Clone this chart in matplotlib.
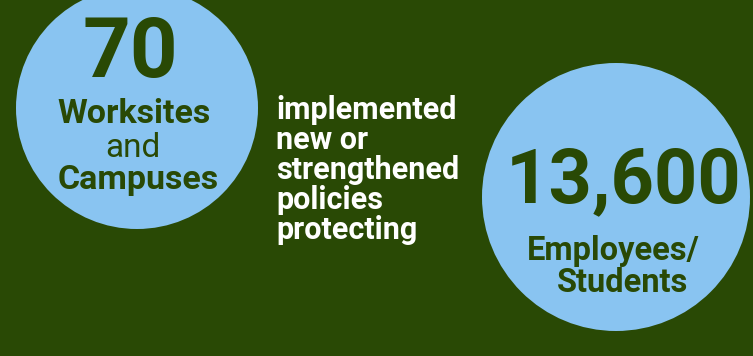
import matplotlib.pyplot as plt
from matplotlib.patches import Circle

# values shown in the graphic
big_numbers = ["70", "13,600"]
left_labels = ["Worksites", "and", "Campuses"]
right_labels = ["Employees/", "Students"]
middle_lines = ["implemented", "new or", "strengthened", "policies", "protecting"]

bg = "#294905"
blue = "#89c4f1"
W, H = 753, 356

plt.rcParams["font.family"] = ["Roboto", "DejaVu Sans"]

fig = plt.figure(figsize=(W / 100, H / 100), dpi=100, facecolor=bg)
ax = fig.add_axes([0, 0, 1, 1])
ax.set_xlim(0, W)
ax.set_ylim(H, 0)
ax.set_aspect("equal")
ax.axis("off")
ax.set_facecolor(bg)

# circles
ax.add_patch(Circle((137, 108), 121, color=blue, lw=0))
ax.add_patch(Circle((616, 197), 134, color=blue, lw=0))

# left circle
ax.text(130, 77, big_numbers[0], fontsize=60, fontweight="bold", color=bg,
        ha="center", va="baseline")
ax.text(134, 123, left_labels[0], fontsize=24.5, fontweight="bold", color=bg,
        ha="center", va="baseline")
ax.text(133, 157, left_labels[1], fontsize=24, color=bg,
        ha="center", va="baseline")
ax.text(138, 189, left_labels[2], fontsize=24.5, fontweight="bold", color=bg,
        ha="center", va="baseline")

# middle text
for i, line in enumerate(middle_lines):
    ax.text(276, 119 + 30 * i, line, fontsize=22, fontweight="bold",
            color="white", ha="left", va="baseline")

# right circle
ax.text(624, 202, big_numbers[1], fontsize=54.5, fontweight="bold", color=bg,
        ha="center", va="baseline")
ax.text(613, 260, right_labels[0], fontsize=23.5, fontweight="bold", color=bg,
        ha="center", va="baseline")
ax.text(623, 292, right_labels[1], fontsize=23.5, fontweight="bold", color=bg,
        ha="center", va="baseline")

fig.savefig("out.png", dpi=100, facecolor=bg)
